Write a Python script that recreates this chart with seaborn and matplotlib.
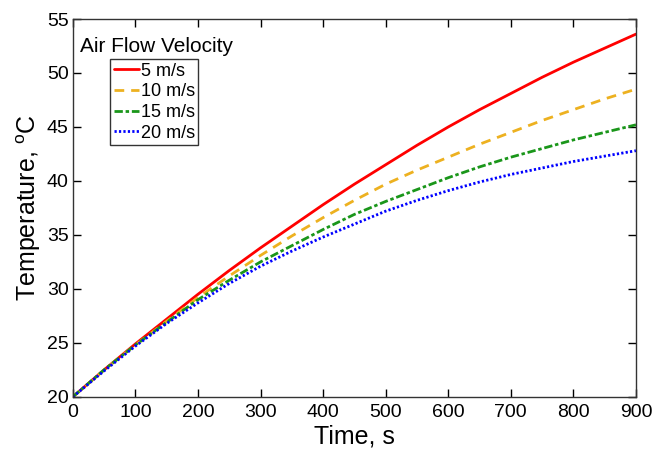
import matplotlib
matplotlib.use("Agg")
import matplotlib.pyplot as plt
import seaborn as sns
import pandas as pd

time_s = [0, 50, 100, 150, 200, 250, 300, 350, 400, 450, 500, 550, 600, 650, 700, 750, 800, 850, 900]
v5 = [20, 22.5, 24.9, 27.2, 29.5, 31.7, 33.8, 35.8, 37.8, 39.7, 41.5, 43.3, 45.0, 46.6, 48.1, 49.6, 51.0, 52.3, 53.6]
v10 = [20, 22.5, 24.8, 27.0, 29.2, 31.2, 33.1, 34.9, 36.6, 38.2, 39.7, 41.0, 42.2, 43.4, 44.5, 45.6, 46.6, 47.6, 48.5]
v15 = [20, 22.5, 24.8, 26.9, 29.0, 30.8, 32.5, 34.0, 35.5, 36.9, 38.1, 39.2, 40.3, 41.3, 42.2, 43.0, 43.8, 44.5, 45.2]
v20 = [20, 22.4, 24.7, 26.8, 28.7, 30.5, 32.1, 33.5, 34.8, 36.0, 37.2, 38.2, 39.1, 39.9, 40.6, 41.2, 41.8, 42.3, 42.8]
labels = ["5 m/s", "10 m/s", "15 m/s", "20 m/s"]
colors = ["#ff0000", "#edb120", "#1a961a", "#0000ff"]
xticks = [0, 100, 200, 300, 400, 500, 600, 700, 800, 900]
yticks = [20, 25, 30, 35, 40, 45, 50, 55]

sns.set_style("ticks")
plt.rcParams['font.family'] = ['Liberation Sans', 'DejaVu Sans']
plt.rcParams['mathtext.fontset'] = 'custom'
plt.rcParams['mathtext.rm'] = 'Liberation Sans'
plt.rcParams['lines.scale_dashes'] = False
plt.rcParams['text.color'] = 'black'
plt.rcParams['axes.labelcolor'] = 'black'
plt.rcParams['xtick.color'] = 'black'
plt.rcParams['ytick.color'] = 'black'

fig = plt.figure(figsize=(6.68, 4.53), dpi=100)
ax = fig.add_axes([0.109, 0.124, 0.843, 0.834])

series = [v5, v10, v15, v20]
dash_patterns = [None, (7, 5), (6, 2, 2.5, 2), (1.6, 1.6)]
for vals, lab, col, dp in zip(series, labels, colors, dash_patterns):
    df = pd.DataFrame({"t": time_s, "T": vals})
    sns.lineplot(data=df, x="t", y="T", ax=ax, color=col, linewidth=2.0, label=lab)
    line = ax.get_lines()[-1]
    if dp is not None:
        line.set_dashes(dp)

ax.set_xlim(0, 900)
ax.set_ylim(20, 55)
ax.set_xticks(xticks)
ax.set_yticks(yticks)
ax.tick_params(direction='in', length=6, width=1, top=True, right=True, labelsize=14)
ax.tick_params(axis='x', pad=5)
ax.tick_params(axis='y', pad=3)
for s in ax.spines.values():
    s.set_linewidth(1.0)
    s.set_color('#333333')
ax.set_xlabel("Time, s", fontsize=18, labelpad=3)
ax.set_ylabel("Temperature, $^\\mathregular{o}$C", fontsize=18, labelpad=3)

ax.text(0.012, 0.926, "Air Flow Velocity", transform=ax.transAxes, fontsize=15,
        ha='left', va='center')
leg = ax.legend(loc='upper left', bbox_to_anchor=(0.066, 0.894), fontsize=13,
                frameon=True, fancybox=False, handlelength=1.4, handletextpad=0.1,
                borderpad=0.2, labelspacing=0.2, borderaxespad=0)
leg.get_frame().set_edgecolor('black')
leg.get_frame().set_linewidth(1.0)

fig.savefig("out.png", dpi=100)
